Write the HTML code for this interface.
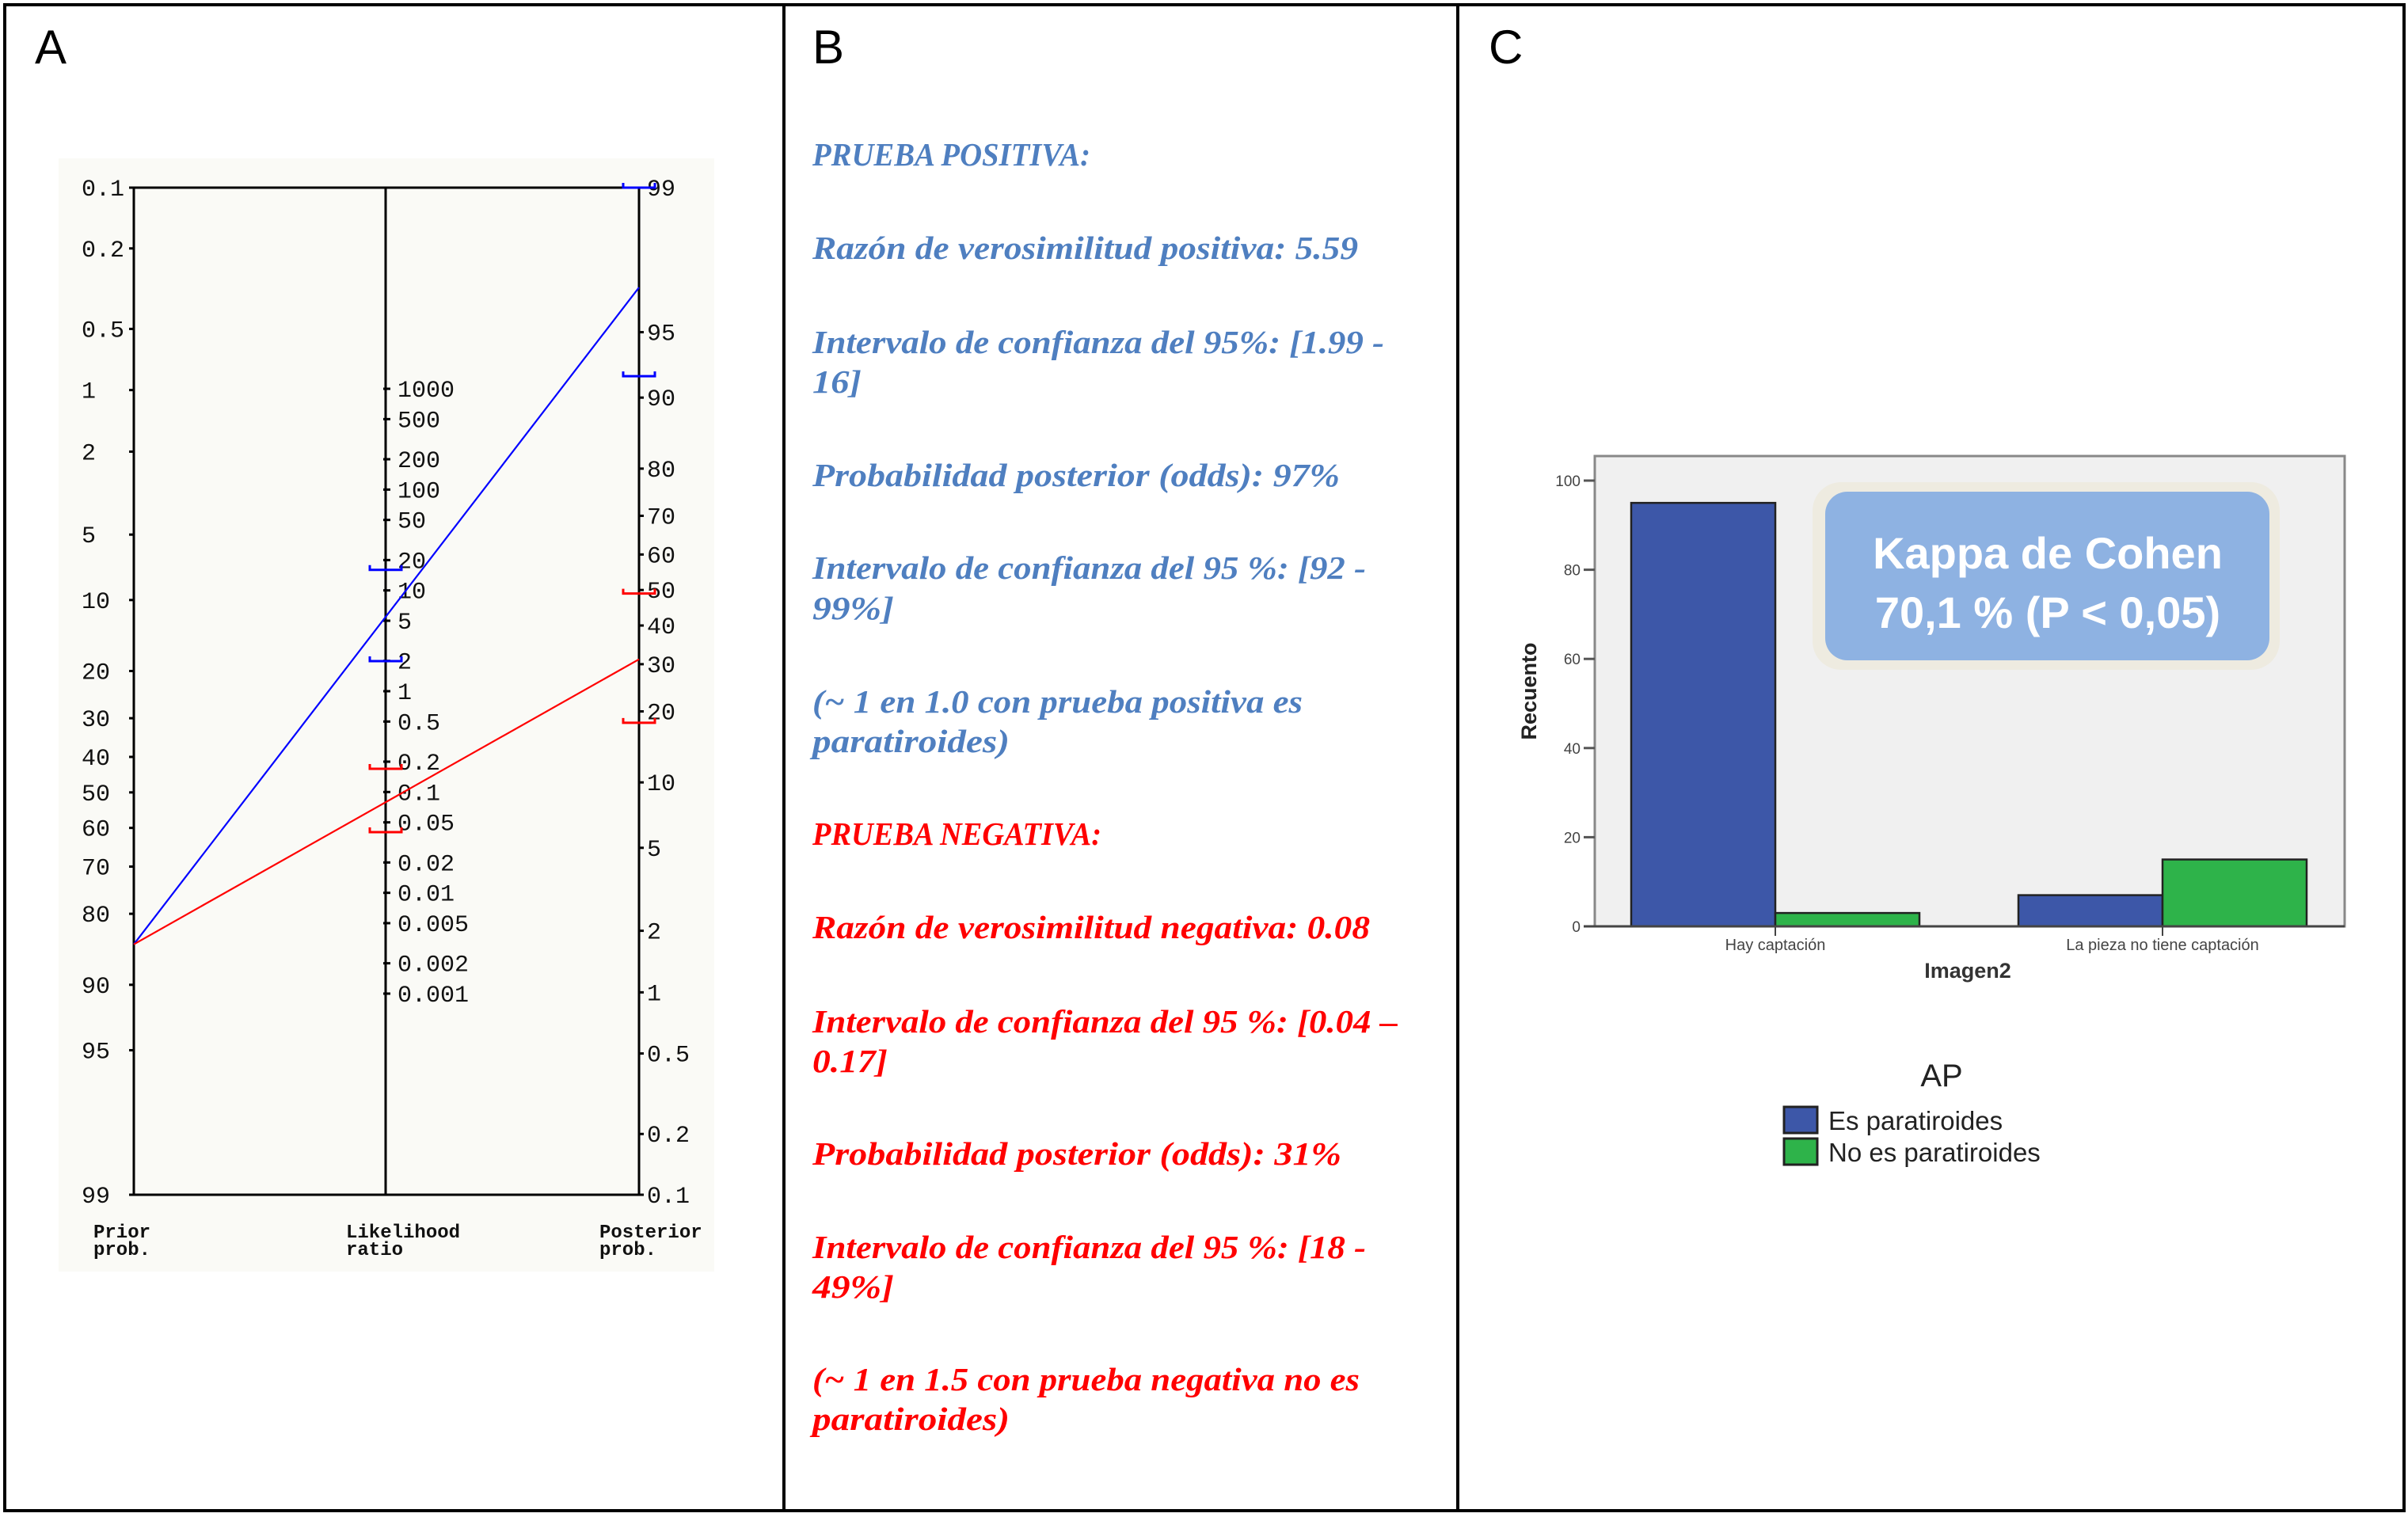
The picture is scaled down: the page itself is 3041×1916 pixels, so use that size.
<!DOCTYPE html>
<html><head><meta charset="utf-8">
<style>
html,body{margin:0;padding:0;background:#fff;}
svg{display:block;}
.mono{font-family:"Liberation Mono","DejaVu Sans Mono",monospace;}
.tb{font-family:"Liberation Serif",serif;font-weight:bold;font-style:italic;font-size:41px;}
</style></head>
<body>
<svg id="fig" width="3041" height="1916" viewBox="0 0 3041 1916" xmlns="http://www.w3.org/2000/svg">
  <rect x="0" y="0" width="3041" height="1916" fill="#fff"/>
  <g stroke="#000" stroke-width="4" fill="none">
    <rect x="6" y="6" width="3030" height="1902"/>
    <line x1="990" y1="6" x2="990" y2="1908"/>
    <line x1="1841" y1="6" x2="1841" y2="1908"/>
  </g>
  <g font-family="Liberation Sans, sans-serif" font-size="60" fill="#000">
    <text x="44" y="80">A</text>
    <text x="1026" y="80">B</text>
    <text x="1880" y="80">C</text>
  </g>

  <!-- Panel A: Fagan nomogram -->
  <g id="nomo">
    <rect x="74" y="200" width="828" height="1406" fill="#fafaf6"/>
  </g>

  <!-- Panel B text -->
  <g id="textB"></g>

  <!-- Panel C bar chart -->
  <g id="barC"></g>
</svg>
<script>
// ---------- Panel A data ----------
const priorProb = 85;
const lrPositive = 5.59;
const lrNegative = 0.08;
const lrPosCI = [1.99, 16];
const lrNegCI = [0.04, 0.17];
const postPosCI = [92, 99];
const postNegCI = [18, 49];
const probTicks = [0.1,0.2,0.5,1,2,5,10,20,30,40,50,60,70,80,90,95,99];
const lrTicks = [1000,500,200,100,50,20,10,5,2,1,0.5,0.2,0.1,0.05,0.02,0.01,0.005,0.002,0.001];

// ---------- Panel C data ----------
const categories = ["Hay captación","La pieza no tiene captación"];
const seriesNames = ["Es paratiroides","No es paratiroides"];
const esParatiroides = [95, 7];
const noEsParatiroides = [3, 15];
const yTicks = [0,20,40,60,80,100];

const NS = "http://www.w3.org/2000/svg";
function mk(tag, attrs, parent, txt){
  const e = document.createElementNS(NS, tag);
  for (const k in attrs) e.setAttribute(k, attrs[k]);
  if (txt !== undefined) e.textContent = txt;
  parent.appendChild(e);
  return e;
}

// ----- Nomogram -----
(function(){
  const g = document.getElementById('nomo');
  const xL = 169, xM = 487, xR = 807, yT = 237, yB = 1509;
  const lmin = Math.log(0.001/0.999), lmax = Math.log(0.99/0.01);
  const logit = p => Math.log((p/100)/(1-p/100));
  const yPrior = p => yT + (logit(p)-lmin)/(lmax-lmin)*(yB-yT);
  const yPost = p => yT + (lmax-logit(p))/(lmax-lmin)*(yB-yT);
  const yLR = lr => { const mid=(yT+yB)/2 + ( (lmin+lmax)/2 )/(lmax-lmin)*(yB-yT)*0; 
    // consistent with lines: midpoint of prior/post for zero ln LR
    const y1 = yT + (0-lmin)/(lmax-lmin)*(yB-yT);
    const y2 = yT + (lmax-0)/(lmax-lmin)*(yB-yT);
    return (y1+y2)/2 - Math.log(lr)/(lmax-lmin)*(yB-yT)/2; };

  let e;
  e = mk('rect',{x:xL,y:yT,width:xR-xL,height:yB-yT,fill:'none',stroke:'#000','stroke-width':3},g);
   
  e = mk('line',{x1:xM,y1:yT,x2:xM,y2:yB,stroke:'#000','stroke-width':3},g);
   

  probTicks.forEach(p=>{
    const y = yPrior(p);
    mk('line',{x1:xL-6,y1:y,x2:xL,y2:y,stroke:'#000','stroke-width':3},g);
    const t = mk('text',{x:103,y:y+10,'font-size':30,class:'mono',fill:'#111'},g,String(p));
     
    const y2 = yPost(p);
    mk('line',{x1:xR,y1:y2,x2:xR+6,y2:y2,stroke:'#000','stroke-width':3},g);
    const t2 = mk('text',{x:817,y:y2+10,'font-size':30,class:'mono',fill:'#111'},g,String(p));
     
  });
  lrTicks.forEach(l=>{
    const y = yLR(l);
    mk('line',{x1:xM-3,y1:y,x2:xM+6,y2:y,stroke:'#000','stroke-width':3},g);
    const t = mk('text',{x:502,y:y+10,'font-size':30,class:'mono',fill:'#111'},g,String(l));
     
  });

  function line(lr, color, name){
    const y0 = yPrior(priorProb);
    const post = 100/(1+1/(Math.exp(logit(priorProb)+Math.log(lr))));
    const y1 = yPost(post);
    const l = mk('line',{x1:xL,y1:y0,x2:xR,y2:y1,stroke:color,'stroke-width':2.2},g);
     
  }
  line(lrPositive,'#0000ff','positive-test-line');
  line(lrNegative,'#ff0000','negative-test-line');

  function bracket(x,y,color,name){
    const b = mk('path',{d:`M${x-20},${y-6} L${x-20},${y} L${x+20},${y} L${x+20},${y-6}`,fill:'none',stroke:color,'stroke-width':3},g);
     
  }
  lrPosCI.forEach(v=>bracket(xM,yLR(v),'#0000ff','lr-positive-ci-marker'));
  lrNegCI.forEach(v=>bracket(xM,yLR(v),'#ff0000','lr-negative-ci-marker'));
  postPosCI.forEach(v=>bracket(xR,yPost(v),'#0000ff','posterior-positive-ci-marker'));
  postNegCI.forEach(v=>bracket(xR,yPost(v),'#ff0000','posterior-negative-ci-marker'));

  const labs = [[118,'Prior','prob.','prior-axis-title'],[437,'Likelihood','ratio','lr-axis-title'],[757,'Posterior','prob.','posterior-axis-title']];
  labs.forEach(a=>{
    const t = mk('text',{x:a[0],y:1563,'font-size':24,class:'mono','font-weight':'bold',fill:'#111'},g);
     
    mk('tspan',{x:a[0],dy:0},t,a[1]);
    mk('tspan',{x:a[0],dy:22},t,a[2]);
  });
})();

// ----- Panel B text -----
(function(){
  const g = document.getElementById('textB');
  const blue = '#4f7fc0', red = '#ff0000';
  const lines = [
    ['PRUEBA POSITIVA:',209,710,blue,'positive-heading'],
    ['Razón de verosimilitud positiva: 5.59',327,884,blue,'positive-lr'],
    ['Intervalo de confianza del 95%: [1.99 -',446,901,blue,'positive-lr-ci'],
    ['16]',496,561,blue,'positive-lr-ci-cont'],
    ['Probabilidad posterior (odds): 97%',614,872,blue,'positive-posterior'],
    ['Intervalo de confianza del 95 %: [92 -',731,889,blue,'positive-posterior-ci'],
    ['99%]',782,582,blue,'positive-posterior-ci-cont'],
    ['(~ 1 en 1.0 con prueba positiva es',900,848,blue,'positive-interpretation'],
    ['paratiroides)',950,657,blue,'positive-interpretation-cont'],
    ['PRUEBA NEGATIVA:',1067,717,red,'negative-heading'],
    ['Razón de verosimilitud negativa: 0.08',1185,892,red,'negative-lr'],
    ['Intervalo de confianza del 95 %: [0.04 –',1304,910,red,'negative-lr-ci'],
    ['0.17]',1354,578,red,'negative-lr-ci-cont'],
    ['Probabilidad posterior (odds): 31%',1471,873,red,'negative-posterior'],
    ['Intervalo de confianza del 95 %: [18 -',1589,889,red,'negative-posterior-ci'],
    ['49%]',1639,582,red,'negative-posterior-ci-cont'],
    ['(~ 1 en 1.5 con prueba negativa no es',1756,885,red,'negative-interpretation'],
    ['paratiroides)',1806,657,red,'negative-interpretation-cont']
  ];
  lines.forEach(l=>{
    const x0 = 1026, w = l[2]*1.94 - x0;
    const t = mk('text',{x:x0,y:l[1],class:'tb',fill:l[3],textLength:w.toFixed(0),lengthAdjust:'spacingAndGlyphs'},g,l[0]);
     
  });
})();

// ----- Panel C bar chart -----
(function(){
  const g = document.getElementById('barC');
  const px0 = 2014, px1 = 2961, py0 = 576, py1 = 1170;
  const yScale = v => 1170 - v/100*(1170-607);
  const groupStart = [2060, 2549], barW = 182;
  let e;
  e = mk('rect',{x:px0,y:py0,width:px1-px0,height:py1-py0,fill:'#f0f0f0',stroke:'#888','stroke-width':3},g);
   
  yTicks.forEach(v=>{
    const y = yScale(v);
    mk('line',{x1:px0-14,y1:y,x2:px0,y2:y,stroke:'#555','stroke-width':3},g);
    const t = mk('text',{x:px0-18,y:y+7,'font-size':19,'text-anchor':'end','font-family':'Liberation Sans, sans-serif',fill:'#444'},g,String(v));
     
  });
  const series = [esParatiroides, noEsParatiroides];
  const colors = ['#3d57a8','#2eb34a'];
  categories.forEach((c,i)=>{
    series.forEach((s,j)=>{
      const x = groupStart[i] + j*barW, y = yScale(s[i]);
      const r = mk('rect',{x:x,y:y,width:barW,height:yScale(0)-y,fill:colors[j],stroke:'#222','stroke-width':2.5},g);
      
      
    });
    const cx = groupStart[i] + barW;
    mk('line',{x1:cx,y1:py1,x2:cx,y2:py1+12,stroke:'#444','stroke-width':2},g);
    const t = mk('text',{x:cx,y:1200,'font-size':20,'text-anchor':'middle','font-family':'Liberation Sans, sans-serif',fill:'#444'},g,c);
     
  });
  e = mk('line',{x1:px0-14,y1:py1,x2:px1,y2:py1,stroke:'#444','stroke-width':3},g);
  e = mk('text',{x:2485,y:1235,'font-size':27,'font-weight':'bold','text-anchor':'middle','font-family':'Liberation Sans, sans-serif',fill:'#333'},g,'Imagen2');
   
  e = mk('text',{x:0,y:0,'font-size':27,'font-weight':'bold','text-anchor':'middle','font-family':'Liberation Sans, sans-serif',fill:'#222',transform:'translate(1940,873) rotate(-90)'},g,'Recuento');
   

  // Kappa box
  e = mk('rect',{x:2289,y:609,width:590,height:237,rx:36,fill:'#eeebe0'},g);
   
  e = mk('rect',{x:2305,y:621,width:561,height:213,rx:28,fill:'#8eb2e2'},g);
   
  const kf = {'font-size':56,'font-weight':'bold','text-anchor':'middle','font-family':'Liberation Sans Narrow, Liberation Sans, sans-serif',fill:'#fff'};
  e = mk('text',Object.assign({x:2586,y:718},kf),g,'Kappa de Cohen');
   
  e = mk('text',Object.assign({x:2586,y:793},kf),g,'70,1 % (P < 0,05)');
   

  // Legend
  e = mk('text',{x:2452,y:1372,'font-size':40,'text-anchor':'middle','font-family':'Liberation Sans, sans-serif',fill:'#222'},g,'AP');
   
  seriesNames.forEach((n,j)=>{
    const y = 1398 + j*40;
    const r = mk('rect',{x:2253,y:y,width:42,height:33,fill:colors[j],stroke:'#222','stroke-width':3},g);
     
    const t = mk('text',{x:2309,y:y+29,'font-size':33,'font-family':'Liberation Sans, sans-serif',fill:'#222'},g,n);
     
  });
})();
</script>
</body></html>
